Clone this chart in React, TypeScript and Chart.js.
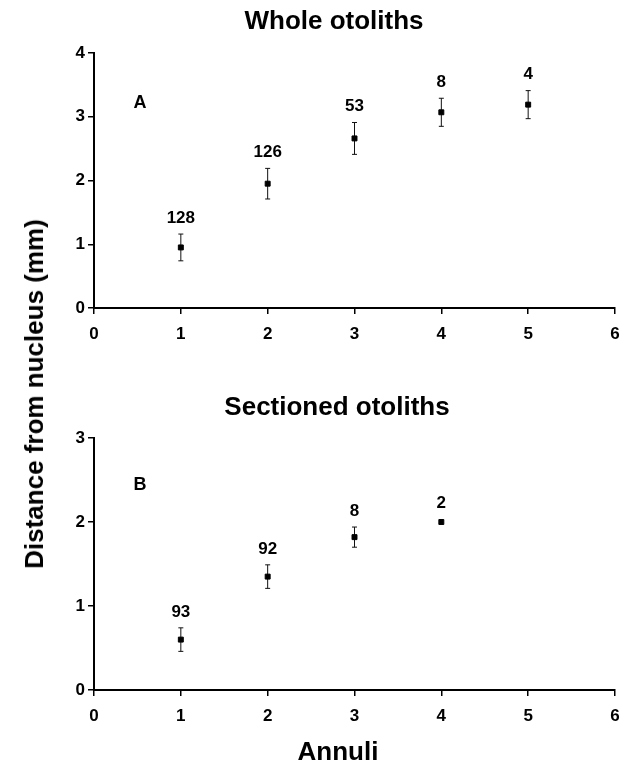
import React, { useEffect, useRef } from "react";
import { Chart, registerables } from "chart.js";

Chart.register(...registerables);

// ---- data ----
const annuliWhole = [1, 2, 3, 4, 5];
const meanWhole = [0.95, 1.95, 2.66, 3.07, 3.19];
const errWhole = [0.21, 0.24, 0.25, 0.22, 0.22];
const nWhole = ["128", "126", "53", "8", "4"];

const annuliSect = [1, 2, 3, 4];
const meanSect = [0.6, 1.35, 1.82, 2.0];
const errSect = [0.14, 0.14, 0.12, 0];
const nSect = ["93", "92", "8", "2"];

const xRange = [0, 6];
const yRangeWhole = [0, 4];
const yRangeSect = [0, 3];

const titleWhole = "Whole otoliths";
const titleSect = "Sectioned otoliths";
const xAxisTitle = "Annuli";
const yAxisTitle = "Distance from nucleus (mm)";

const FONT = "'Liberation Sans', Arial, Helvetica, sans-serif";

const errLabelPlugin = {
  id: "errLabels",
  beforeDatasetsDraw(chart: any, _args: any, opts: any) {
    const ctx = chart.ctx;
    const xs = chart.scales.x;
    const ys = chart.scales.y;
    const ds = chart.data.datasets[0].data as { x: number; y: number }[];
    ctx.save();
    ctx.strokeStyle = "#111";
    ctx.lineWidth = 1;
    ds.forEach((p, i) => {
      const e = opts.err[i];
      if (!e) return;
      const px = xs.getPixelForValue(p.x);
      const yT = ys.getPixelForValue(p.y + e);
      const yB = ys.getPixelForValue(p.y - e);
      ctx.beginPath();
      ctx.moveTo(px, yT);
      ctx.lineTo(px, yB);
      ctx.moveTo(px - 2.5, yT);
      ctx.lineTo(px + 2.5, yT);
      ctx.moveTo(px - 2.5, yB);
      ctx.lineTo(px + 2.5, yB);
      ctx.stroke();
    });
    ctx.restore();
  },
  afterDatasetsDraw(chart: any, _args: any, opts: any) {
    const ctx = chart.ctx;
    const xs = chart.scales.x;
    const ys = chart.scales.y;
    const ds = chart.data.datasets[0].data as { x: number; y: number }[];
    ctx.save();
    ctx.fillStyle = "#000";
    ctx.font = `bold 17px ${FONT}`;
    ctx.textAlign = "center";
    ctx.textBaseline = "middle";
    ds.forEach((p, i) => {
      const e = opts.err[i] || 0;
      const px = xs.getPixelForValue(p.x);
      const yT = ys.getPixelForValue(p.y + e);
      ctx.fillText(opts.labels[i], px, yT - (e ? 16 : 19));
    });
    ctx.font = `bold 18px ${FONT}`;
    ctx.fillText(opts.letter, chart.chartArea.left + opts.letterDx, chart.chartArea.top + opts.letterDy);
    ctx.restore();
  },
};

function makeConfig(
  xs: number[],
  ys: number[],
  err: number[],
  labels: string[],
  yRange: number[],
  letter: string,
  letterDy: number,
  xHeight: number
): any {
  return {
    type: "scatter",
    data: {
      datasets: [
        {
          data: xs.map((x, i) => ({ x, y: ys[i] })),
          pointStyle: "rect",
          pointRadius: 3.5,
          pointBorderWidth: 1,
          backgroundColor: "#000",
          borderColor: "#000",
        },
      ],
    },
    plugins: [errLabelPlugin],
    options: {
      responsive: false,
      animation: false,
      layout: { padding: { top: 53, left: 0, right: 19, bottom: 0 } },
      plugins: {
        legend: { display: false },
        tooltip: { enabled: false },
        title: { display: false },
        errLabels: { err, labels, letter, letterDx: 46, letterDy },
      },
      scales: {
        x: {
          type: "linear",
          min: xRange[0],
          max: xRange[1],
          ticks: {
            stepSize: 1,
            color: "#000",
            padding: 10,
            font: { family: FONT, size: 17, weight: "bold" },
          },
          grid: {
            drawOnChartArea: false,
            drawTicks: true,
            tickLength: 6,
            color: "#000",
            lineWidth: 1.5,
          },
          border: { display: true, color: "#000", width: 2 },
          afterFit: (s: any) => {
            s.height = xHeight;
          },
        },
        y: {
          type: "linear",
          min: yRange[0],
          max: yRange[1],
          ticks: {
            stepSize: 1,
            color: "#000",
            padding: 3,
            font: { family: FONT, size: 17, weight: "bold" },
          },
          grid: {
            drawOnChartArea: false,
            drawTicks: true,
            tickLength: 6,
            color: "#000",
            lineWidth: 1.5,
          },
          border: { display: true, color: "#000", width: 2 },
          afterFit: (s: any) => {
            s.width = 94;
          },
        },
      },
    },
  };
}

function ChartPanel({ config, width, height, top }: { config: any; width: number; height: number; top: number }) {
  const ref = useRef<HTMLCanvasElement | null>(null);
  useEffect(() => {
    if (!ref.current) return;
    const chart = new Chart(ref.current, config);
    return () => chart.destroy();
  }, [config]);
  return (
    <canvas
      ref={ref}
      width={width}
      height={height}
      style={{ position: "absolute", left: 0, top, width, height }}
    />
  );
}

const cfgTop = makeConfig(annuliWhole, meanWhole, errWhole, nWhole, yRangeWhole, "A", 50, 77);
const cfgBottom = makeConfig(annuliSect, meanSect, errSect, nSect, yRangeSect, "B", 47, 78);

function Label({ text, x, y, size, rotate }: { text: string; x: number; y: number; size: number; rotate?: boolean }) {
  return (
    <div
      style={{
        position: "absolute",
        left: x,
        top: y,
        transform: `translate(-50%, -50%)${rotate ? " rotate(-90deg)" : ""}`,
        whiteSpace: "nowrap",
        fontFamily: FONT,
        fontWeight: "bold",
        fontSize: size,
        color: "#000",
        lineHeight: 1,
      }}
    >
      {text}
    </div>
  );
}

export default function App() {
  return (
    <div style={{ position: "fixed", left: 0, top: 0, width: 634, height: 768, background: "#fff", overflow: "hidden" }}>
      <ChartPanel config={cfgTop} width={634} height={385} top={0} />
      <ChartPanel config={cfgBottom} width={634} height={383} top={385} />
      <Label text={titleWhole} x={334} y={20} size={26} />
      <Label text={titleSect} x={337} y={406} size={26} />
      <Label text={xAxisTitle} x={338} y={751} size={26} />
      <Label text={yAxisTitle} x={34} y={394} size={26} rotate />
    </div>
  );
}
